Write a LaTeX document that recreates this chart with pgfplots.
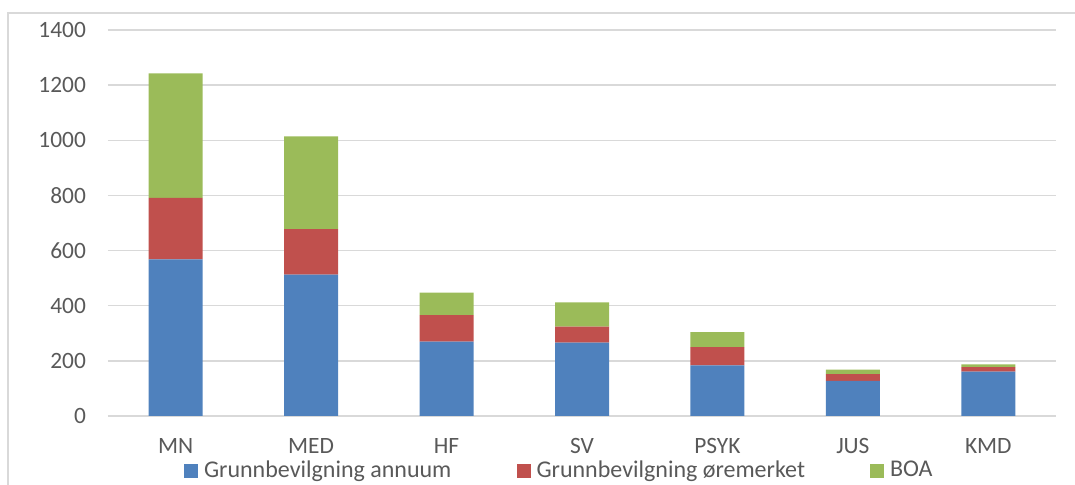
\documentclass[border=0pt]{standalone}
\usepackage{pgfplots}
\pgfplotsset{compat=1.18}
\usepackage{fontspec}
\setmainfont{Carlito}
\definecolor{cblue}{HTML}{4F81BD}
\definecolor{cred}{HTML}{C0504D}
\definecolor{cgreen}{HTML}{9BBB59}
\definecolor{textgray}{HTML}{595959}
\definecolor{gridgray}{HTML}{D9D9D9}
\definecolor{framegray}{HTML}{D9D9D9}
\begin{document}
\begin{tikzpicture}
\useasboundingbox (-54pt,-34.5pt) rectangle (483.5pt,208pt);
\draw[framegray, line width=0.6pt] (-50pt,-34.5pt) -- (-50pt,201.5pt) -- (483.5pt,201.5pt);
\begin{axis}[
  at={(0pt,0pt)}, anchor=south west,
  scale only axis, width=474pt, height=193pt,
  ybar stacked, bar width=27pt,
  xmin=-0.5, xmax=6.5, ymin=0, ymax=1400,
  xtick={0,1,2,3,4,5,6},
  xticklabels={MN,MED,HF,SV,PSYK,JUS,KMD},
  ytick={0,200,400,600,800,1000,1200,1400},
  ymajorgrids, grid style={draw=gridgray, line width=0.75pt},
  axis line style={draw=none},
  major tick length=0pt,
  /pgf/number format/assume math mode=true,
  /pgf/number format/1000 sep={},
  tick label style={text=textgray, font=\fontsize{11.7}{13}\selectfont},
  yticklabel style={xshift=-7.5pt},
  xticklabel style={yshift=-7.7pt},
  legend columns=3,
  legend style={at={(axis description cs:0.0802,-0.1415)}, anchor=west,
    draw=none, fill=none, inner sep=0pt, outer sep=0pt,
    font=\fontsize{12}{13}\selectfont, text=textgray,
    /tikz/every even column/.append style={column sep=32.5pt},
    /tikz/every odd column/.append style={column sep=3pt},
    nodes={inner sep=0pt}},
  legend image code/.code={\fill[#1] (0pt,-3.5pt) rectangle (7pt,3.5pt);},
]
\addplot[fill=cblue, draw=none] coordinates {(0,568) (1,513) (2,270) (3,266) (4,184) (5,127) (6,161)};
\addplot[fill=cred, draw=none] coordinates {(0,223) (1,165) (2,96) (3,58) (4,66) (5,25) (6,16)};
\addplot[fill=cgreen, draw=none] coordinates {(0,452) (1,336) (2,81) (3,88) (4,54) (5,16) (6,10)};
\legend{Grunnbevilgning annuum, Grunnbevilgning øremerket, BOA}
\end{axis}
\end{tikzpicture}
\end{document}
